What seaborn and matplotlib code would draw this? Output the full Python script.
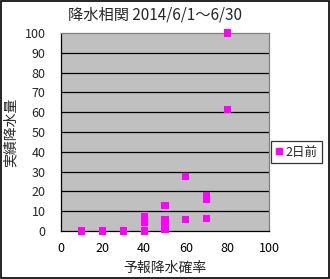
import matplotlib
matplotlib.use("Agg")
import matplotlib.pyplot as plt
import seaborn as sns
import pandas as pd
from matplotlib.patches import Rectangle

prob = [10, 20, 30, 40, 40, 40, 40, 50, 50, 50, 50, 50, 60, 60, 70, 70, 70, 80, 80]
rain = [0, 0, 0, 0, 4.5, 5.5, 7, 1, 2.5, 4, 5.5, 13, 5.9, 27.5, 6.4, 16, 18, 100, 61.5]
series_name = "2日前"
title = "降水相関 2014/6/1～6/30"
xlabel = "予報降水確率"
ylabel = "実績降水量"

sns.set_style("white")
plt.rcParams['font.family'] = ['Noto Sans CJK JP', 'DejaVu Sans']

fig = plt.figure(figsize=(3.30, 2.79), dpi=100)
ax = fig.add_axes([61/330, 48/279, 208/330, 198/279])
df = pd.DataFrame({"x": prob, "y": rain, "s": series_name})
sns.scatterplot(data=df, x="x", y="y", hue="s", palette=["#ff00ff"], marker="s",
                s=28, linewidth=0, ax=ax, clip_on=False, zorder=5, legend=False)
ax.set_facecolor("#c0c0c0")
ax.set_xlim(0, 100)
ax.set_ylim(0, 100)
ax.set_xticks(range(0, 101, 20))
ax.set_yticks(range(0, 101, 10))
for yv in range(10, 100, 10):
    ax.axhline(yv, color="black", lw=0.9, zorder=1)
for s in ["top", "right"]:
    ax.spines[s].set_color("#808080")
    ax.spines[s].set_linewidth(0.9)
for s in ["left", "bottom"]:
    ax.spines[s].set_color("black")
    ax.spines[s].set_linewidth(0.9)
ax.tick_params(axis="x", direction="out", length=3, width=0.8, labelsize=9, pad=5, colors="black")
ax.tick_params(axis="y", length=0, labelsize=9, pad=11)
ax.set_xlabel(xlabel, fontsize=10, labelpad=4)
ax.set_ylabel(ylabel, fontsize=10)
ax.yaxis.set_label_coords(-0.21, 0.5)
fig.text(0.47, 0.945, title, ha="center", va="center", fontsize=11)

# legend
handle = plt.Line2D([], [], marker="s", color="#ff00ff", linestyle="none", markersize=5)
leg = fig.legend([handle], [series_name], loc="center left", bbox_to_anchor=(271/330, 1 - 152/279),
                 frameon=True, fancybox=False, fontsize=9, handlelength=0.6, handletextpad=0.2,
                 borderpad=0.35, borderaxespad=0)
leg.get_frame().set_edgecolor("black")
leg.get_frame().set_linewidth(0.9)

fig.patches.append(Rectangle((0.002, 0.002), 0.994, 0.994, transform=fig.transFigure,
                             fill=False, edgecolor="black", lw=1.2))
fig.savefig("out.png", dpi=100)
